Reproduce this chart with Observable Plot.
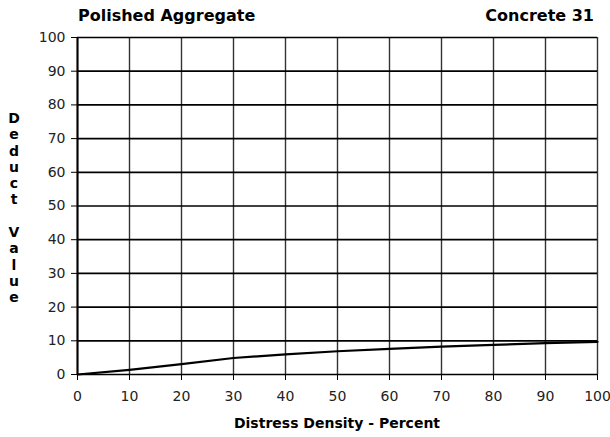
<!DOCTYPE html>
<html>
<head>
<meta charset="utf-8">
<script src="https://cdn.jsdelivr.net/npm/d3@7"></script>
<script src="https://cdn.jsdelivr.net/npm/@observablehq/plot@0.6"></script>
<style>
  html, body { margin: 0; padding: 0; background: #fff; }
  #wrap { position: relative; width: 610px; height: 437px; font-family: "DejaVu Sans", Verdana, sans-serif; }
  .t { position: absolute; font-weight: bold; color: #000; white-space: nowrap; }
  #title { left: 78px; top: 7.5px; font-size: 16px; line-height: 16px; }
  #sub { right: 16px; top: 7.5px; font-size: 16px; line-height: 16px; }
  #xlab { left: 77px; width: 520px; text-align: center; top: 416px; font-size: 14px; line-height: 14px; }
  .ylab { left: 4px; width: 20px; text-align: center; font-size: 14px; line-height: 16.3px; }
</style>
</head>
<body>
<div id="wrap"></div>
<script>
const titleLeft = "Polished Aggregate";
const titleRight = "Concrete 31";
const xLabel = "Distress Density - Percent";
const yLabel = "Deduct Value";

const density = [0, 10, 20, 30, 40, 50, 60, 70, 80, 90, 100];
const deduct  = [0, 1.4, 3.1, 4.9, 6.0, 6.9, 7.6, 8.3, 8.8, 9.3, 9.7];

const xTicks = [0, 10, 20, 30, 40, 50, 60, 70, 80, 90, 100];
const yTicks = [0, 10, 20, 30, 40, 50, 60, 70, 80, 90, 100];

const data = density.map((d, i) => ({density: d, deduct: deduct[i]}));

const chart = Plot.plot({
  width: 610,
  height: 437,
  marginLeft: 77,
  marginRight: 13,
  marginTop: 37,
  marginBottom: 63,
  style: {fontFamily: "DejaVu Sans, Verdana, sans-serif", fontSize: "14px", color: "#222", overflow: "visible", background: "transparent"},
  x: {domain: [0, 100]},
  y: {domain: [0, 100]},
  marks: [
    Plot.ruleX(xTicks, {stroke: "#333", strokeWidth: 1.4}),
    Plot.ruleY(yTicks, {stroke: "#000", strokeWidth: 1.7}),
    Plot.ruleX([0], {stroke: "#000", strokeWidth: 2}),
    Plot.axisX({ticks: xTicks, tickSize: 6, tickPadding: 11, label: null, stroke: "#000", fill: "#222"}),
    Plot.axisY({ticks: yTicks, tickSize: 6, tickPadding: 6, label: null, stroke: "#000", fill: "#222"}),
    Plot.line(data, {x: "density", y: "deduct", stroke: "#000", strokeWidth: 2.2})
  ]
});

const wrap = document.getElementById("wrap");
wrap.appendChild(chart);

function addText(id, cls, txt) {
  const d = document.createElement("div");
  if (id) d.id = id;
  d.className = cls;
  d.textContent = txt;
  wrap.appendChild(d);
  return d;
}
addText("title", "t", titleLeft);
addText("sub", "t", titleRight);
addText("xlab", "t", xLabel);
const yl = document.createElement("div");
yl.className = "t ylab";
yl.style.top = "110px";
yl.innerHTML = yLabel.split("").map(c => c === " " ? "&nbsp;" : c).join("<br>");
wrap.appendChild(yl);
</script>
</body>
</html>
